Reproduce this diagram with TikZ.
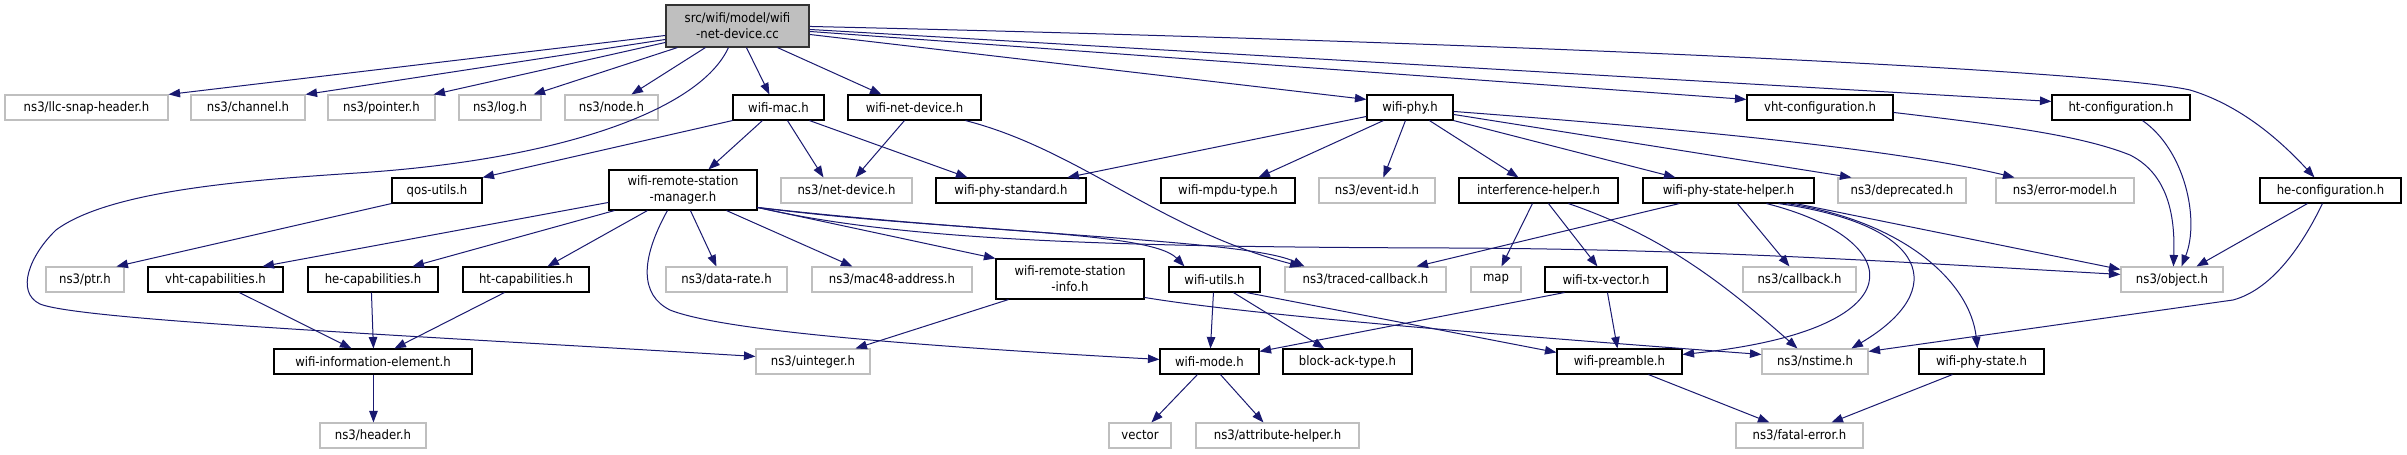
\documentclass[tikz,border=0pt]{standalone}
\usepackage{fontspec}
\setmainfont{DejaVu Sans Condensed}
\usetikzlibrary{arrows.meta}
\definecolor{edgeblue}{RGB}{25,25,112}
\definecolor{extgray}{RGB}{191,191,191}
\begin{document}
\begin{tikzpicture}[x=1pt,y=-1pt,
  box/.style={draw=black, fill=white, line width=1.1pt, minimum height=25pt, inner sep=0pt, font=\fontsize{13}{16}\selectfont, align=center, anchor=center},
  ext/.style={box, draw=extgray},
  rootbox/.style={box, fill=extgray, draw=black!80, minimum height=42pt},
  twoline/.style={minimum height=40pt},
  arr/.style={draw=edgeblue, line width=1pt, -{Triangle[length=11.5pt,width=8.5pt]}},
]
\fill[white] (0,0) rectangle (2407,455);
\useasboundingbox (0,0) rectangle (2407,455);
% row 0
\node[rootbox, minimum width=143pt] (root) at (737.5,26) {src/wifi/model/wifi\\-net-device.cc};
% row 1
\node[ext, minimum width=163pt] (llc) at (86.5,107.5) {ns3/llc-snap-header.h};
\node[ext, minimum width=114pt] (channel) at (248,107.5) {ns3/channel.h};
\node[ext, minimum width=107pt] (pointer) at (381.5,107.5) {ns3/pointer.h};
\node[ext, minimum width=82pt] (log) at (500,107.5) {ns3/log.h};
\node[ext, minimum width=93pt] (nodeh) at (611.5,107.5) {ns3/node.h};
\node[box, minimum width=91pt] (mac) at (778.5,107.5) {wifi-mac.h};
\node[box, minimum width=133pt] (wnd) at (914.5,107.5) {wifi-net-device.h};
\node[box, minimum width=86pt] (phy) at (1410,107.5) {wifi-phy.h};
\node[box, minimum width=146pt] (vhtc) at (1820,107.5) {vht-configuration.h};
\node[box, minimum width=138pt] (htc) at (2121,107.5) {ht-configuration.h};
% row 2
\node[box, minimum width=90pt] (qos) at (437,190.5) {qos-utils.h};
\node[box, twoline, minimum width=148pt] (wsm) at (683,190) {wifi-remote-station\\-manager.h};
\node[ext, minimum width=131pt] (nd) at (846.5,190.5) {ns3/net-device.h};
\node[box, minimum width=150pt] (wps) at (1011,190.5) {wifi-phy-standard.h};
\node[box, minimum width=134pt] (mpdu) at (1228,190.5) {wifi-mpdu-type.h};
\node[ext, minimum width=116pt] (eid) at (1377,190.5) {ns3/event-id.h};
\node[box, minimum width=159pt] (ih) at (1538.5,190.5) {interference-helper.h};
\node[box, minimum width=171pt] (wpsh) at (1728.5,190.5) {wifi-phy-state-helper.h};
\node[ext, minimum width=128pt] (depr) at (1902,190.5) {ns3/deprecated.h};
\node[ext, minimum width=138pt] (em) at (2065,190.5) {ns3/error-model.h};
\node[box, minimum width=141pt] (hec) at (2330.5,190.5) {he-configuration.h};
% row 3
\node[ext, minimum width=78pt] (ptr) at (85,279.5) {ns3/ptr.h};
\node[box, minimum width=135pt] (vhtcap) at (215.5,279.5) {vht-capabilities.h};
\node[box, minimum width=130pt] (hecap) at (373,279.5) {he-capabilities.h};
\node[box, minimum width=126pt] (htcap) at (526,279.5) {ht-capabilities.h};
\node[ext, minimum width=121pt] (dr) at (726.5,279.5) {ns3/data-rate.h};
\node[ext, minimum width=160pt] (mac48) at (892,279.5) {ns3/mac48-address.h};
\node[box, twoline, minimum width=148pt] (wrsi) at (1070,279) {wifi-remote-station\\-info.h};
\node[box, minimum width=91pt] (wu) at (1214.5,279.5) {wifi-utils.h};
\node[ext, minimum width=161pt] (tc) at (1365.5,279.5) {ns3/traced-callback.h};
\node[ext, minimum width=50pt] (map) at (1496,279.5) {map};
\node[box, minimum width=122pt] (txv) at (1606,279.5) {wifi-tx-vector.h};
\node[ext, minimum width=113pt] (cb) at (1799.5,279.5) {ns3/callback.h};
\node[ext, minimum width=102pt] (obj) at (2172,279.5) {ns3/object.h};
% row 4
\node[box, minimum width=198pt] (wie) at (373,361.5) {wifi-information-element.h};
\node[ext, minimum width=114pt] (uint) at (813,361.5) {ns3/uinteger.h};
\node[box, minimum width=99pt] (wm) at (1209.5,361.5) {wifi-mode.h};
\node[box, minimum width=129pt] (bat) at (1347.5,361.5) {block-ack-type.h};
\node[box, minimum width=125pt] (pre) at (1619.5,361.5) {wifi-preamble.h};
\node[ext, minimum width=106pt] (nst) at (1815,361.5) {ns3/nstime.h};
\node[box, minimum width=125pt] (wpst) at (1981.5,361.5) {wifi-phy-state.h};
% row 5
\node[ext, minimum width=106pt] (hdr) at (373,435.5) {ns3/header.h};
\node[ext, minimum width=62pt] (vec) at (1140,435.5) {vector};
\node[ext, minimum width=163pt] (ah) at (1277.5,435.5) {ns3/attribute-helper.h};
\node[ext, minimum width=127pt] (fe) at (1799.5,435.5) {ns3/fatal-error.h};
% edges from root
\draw[arr] ([yshift=-31]root.north west) -- (llc.north east);
\draw[arr] ([yshift=-35]root.north west) -- (channel.north east);
\draw[arr] ([yshift=-38]root.north west) -- ([xshift=-2]pointer.north east);
\draw[arr] ([xshift=12]root.south west) -- ([xshift=-8]log.north east);
\draw[arr] ([xshift=40]root.south west) -- ([xshift=67]nodeh.north west);
\draw[arr] ([xshift=63]root.south west) .. controls (700,110) and (560,160) .. (357,173)
   .. controls (250,180) and (110,190) .. (56,230)
   .. controls (30,255) and (15,292) .. (40,304)
   .. controls (80,320) and (400,335) .. ([yshift=-8]uint.north west);
\draw[arr] ([xshift=81]root.south west) -- ([xshift=37]mac.north west);
\draw[arr] ([xshift=112]root.south west) -- ([xshift=34]wnd.north west);
\draw[arr] ([yshift=-30]root.north east) -- ([yshift=-5]phy.north west);
\draw[arr] ([yshift=-27]root.north east) -- ([yshift=-5]vhtc.north west);
\draw[arr] ([yshift=-25]root.north east) -- ([yshift=-7]htc.north west);
\draw[arr] ([yshift=-22]root.north east) .. controls (1500,42) and (2100,70) .. (2190,90)
   .. controls (2240,105) and (2280,140) .. ([xshift=55]hec.north west);
% wifi-mac
\draw[arr] (mac.south west) -- (qos.north east);
\draw[arr] ([xshift=30]mac.south west) -- ([xshift=100]wsm.north west);
\draw[arr] ([xshift=55]mac.south west) -- ([xshift=43]nd.north west);
\draw[arr] ([xshift=77]mac.south west) -- ([xshift=32]wps.north west);
% wifi-net-device
\draw[arr] ([xshift=57]wnd.south west) -- ([xshift=75]nd.north west);
\draw[arr] ([xshift=118]wnd.south west) .. controls (1080,150) and (1160,230) .. ([xshift=17]tc.north west);
% qos
\draw[arr] (qos.south west) -- ([xshift=71]ptr.north west);
% wifi-remote-station-manager
\draw[arr] ([yshift=-33]wsm.north west) -- ([xshift=115]vhtcap.north west);
\draw[arr] ([xshift=6]wsm.south west) -- ([xshift=105]hecap.north west);
\draw[arr] ([xshift=39]wsm.south west) -- ([xshift=85]htcap.north west);
\draw[arr] ([xshift=59]wsm.south west) .. controls (640,260) and (640,295) .. (670,310)
   .. controls (720,330) and (900,345) .. ([yshift=-11]wm.north west);
\draw[arr] ([xshift=82]wsm.south west) -- ([xshift=51]dr.north west);
\draw[arr] ([xshift=118]wsm.south west) -- ([xshift=41]mac48.north west);
\draw[arr] ([yshift=-38]wsm.north east) -- (wrsi.north west);
\draw[arr] ([yshift=-38]wsm.north east) .. controls (950,232) and (1150,230) .. ([xshift=16]wu.north west);
\draw[arr] ([yshift=-38]wsm.north east) .. controls (1000,235) and (1250,240) .. ([xshift=20]tc.north west);
\draw[arr] ([yshift=-38]wsm.north east) .. controls (900,240) and (1100,247) .. (1450,248)
   .. controls (1700,249) and (1900,262) .. ([yshift=-8]obj.north west);
% wifi-remote-station-info
\draw[arr] ([xshift=13]wrsi.south west) -- ([xshift=100]uint.north west);
\draw[arr] ([yshift=-39]wrsi.north east) .. controls (1250,315) and (1500,335) .. ([yshift=-6]nst.north west);
% wifi-utils
\draw[arr] ([xshift=45]wu.south west) -- ([xshift=51]wm.north west);
\draw[arr] ([xshift=65]wu.south west) -- ([xshift=42]bat.north west);
\draw[arr] ([xshift=78]wu.south west) -- ([yshift=-4]pre.north west);
% interference-helper
\draw[arr] ([xshift=74]ih.south west) -- ([xshift=31]map.north west);
\draw[arr] ([xshift=90]ih.south west) -- ([xshift=53]txv.north west);
\draw[arr] ([xshift=110]ih.south west) .. controls (1660,235) and (1720,280) .. ([xshift=36]nst.north west);
% wifi-phy-state-helper
\draw[arr] ([xshift=37]wpsh.south west) -- ([xshift=132]tc.north west);
\draw[arr] ([xshift=95]wpsh.south west) -- ([xshift=47]cb.north west);
\draw[arr] ([xshift=124]wpsh.south west) .. controls (1910,240) and (1920,330) .. ([yshift=-6]pre.north east);
\draw[arr] ([xshift=136]wpsh.south west) .. controls (1930,225) and (1950,290) .. ([xshift=90]nst.north west);
\draw[arr] ([xshift=144]wpsh.south west) .. controls (1900,220) and (1970,280) .. ([xshift=59]wpst.north west);
\draw[arr] ([xshift=153]wpsh.south west) -- ([yshift=-3]obj.north west);
% wifi-tx-vector
\draw[arr] ([xshift=20]txv.south west) -- ([yshift=-3]wm.north east);
\draw[arr] ([xshift=63]txv.south west) -- ([xshift=61]pre.north west);
% wifi-phy
\draw[arr] ([yshift=-22]phy.north west) -- ([xshift=132]wps.north west);
\draw[arr] ([xshift=17]phy.south west) -- ([xshift=98]mpdu.north west);
\draw[arr] ([xshift=39]phy.south west) -- ([xshift=65]eid.north west);
\draw[arr] ([xshift=63]phy.south west) -- ([xshift=60]ih.north west);
\draw[arr] (phy.south east) -- ([xshift=33]wpsh.north west);
\draw[arr] ([yshift=-20]phy.north east) -- ([xshift=14]depr.north west);
\draw[arr] ([yshift=-17]phy.north east) .. controls (1700,130) and (1900,150) .. ([xshift=19]em.north west);
% configurations
\draw[arr] ([yshift=-18]vhtc.north east) .. controls (2000,125) and (2080,135) .. (2130,155)
   .. controls (2170,175) and (2175,220) .. ([xshift=53]obj.north west);
\draw[arr] ([xshift=91]htc.south west) .. controls (2185,150) and (2200,220) .. ([xshift=61]obj.north west);
\draw[arr] ([xshift=48]hec.south west) -- ([xshift=76]obj.north west);
\draw[arr] ([xshift=63]hec.south west) .. controls (2300,250) and (2270,290) .. (2233,300) -- ([yshift=-3]nst.north east);
% lower rows
\draw[arr] ([xshift=38]wm.south west) -- ([xshift=43]vec.north west);
\draw[arr] ([xshift=61]wm.south west) -- ([xshift=68]ah.north west);
\draw[arr] ([xshift=92]pre.south west) -- ([xshift=34]fe.north west);
\draw[arr] ([xshift=34]wpst.south west) -- ([xshift=96]fe.north west);
\draw[arr] ([xshift=92]vhtcap.south west) -- ([xshift=78]wie.north west);
\draw[arr] ([xshift=64]hecap.south west) -- ([xshift=100]wie.north west);
\draw[arr] ([xshift=42]htcap.south west) -- ([xshift=121]wie.north west);
\draw[arr] ([xshift=100]wie.south west) -- ([xshift=54]hdr.north west);
\end{tikzpicture}
\end{document}
